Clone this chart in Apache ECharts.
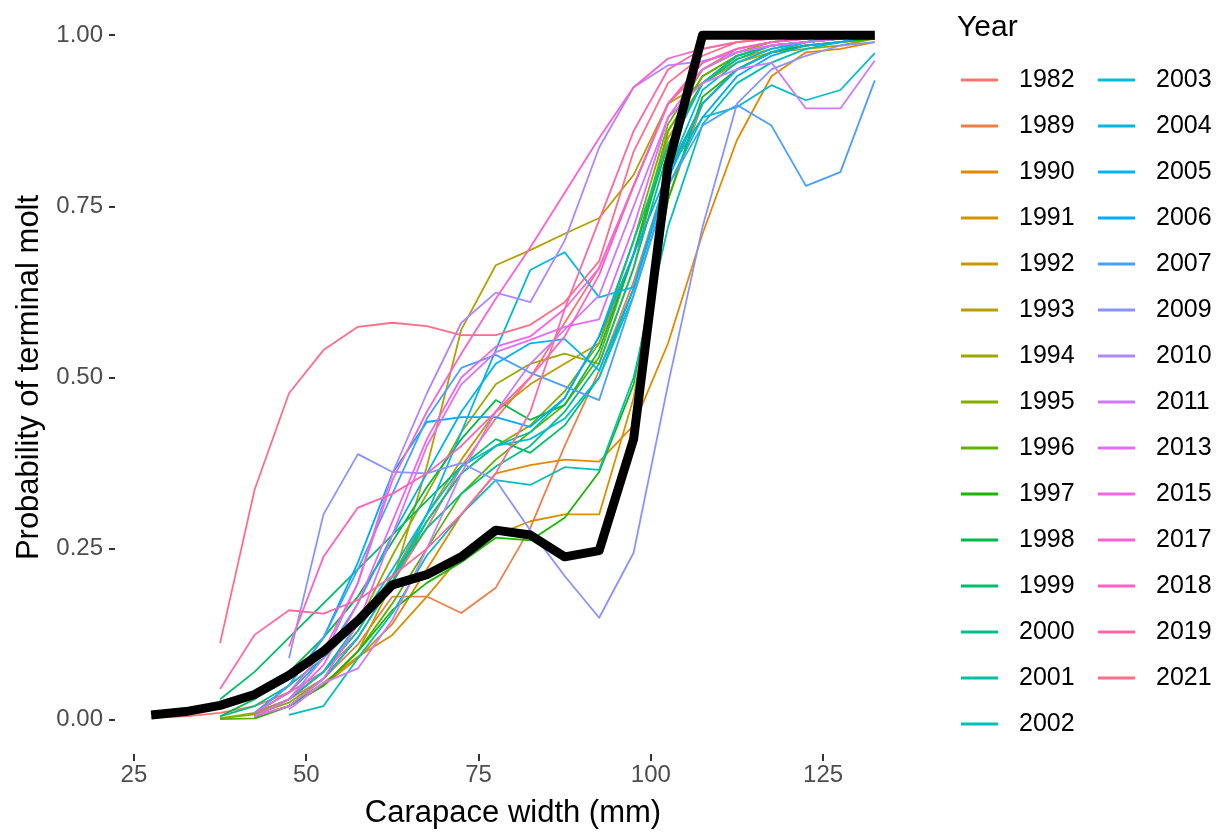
<!DOCTYPE html>
<html>
<head>
<meta charset="utf-8">
<script src="https://cdn.jsdelivr.net/npm/echarts@6/dist/echarts.min.js"></script>
<style>
html,body{margin:0;padding:0;background:#fff;}
#chart{width:1223px;height:836px;}
</style>
</head>
<body>
<div id="chart"></div>
<script>
// Carapace width midpoints (mm)
const widths = [27.5,32.5,37.5,42.5,47.5,52.5,57.5,62.5,67.5,72.5,77.5,82.5,87.5,92.5,97.5,102.5,107.5,112.5,117.5,122.5,127.5,132.5];
const years = ["1982","1989","1990","1991","1992","1993","1994","1995","1996","1997","1998","1999","2000","2001","2002","2003","2004","2005","2006","2007","2009","2010","2011","2013","2015","2017","2018","2019","2021"];
const xTicks = [25,50,75,100,125];
const yTicks = [0,0.25,0.5,0.75,1];

const p1982 = [0.003,0.005,0.01,0.02,0.04,0.07,0.12,0.2,0.28,0.37,0.44,0.5,0.58,0.66,0.78,0.9,0.95,0.98,0.99,0.995,1,1];
const p1989 = [null,null,null,0.01,0.03,0.06,0.11,0.18,0.18,0.156,0.193,0.28,0.40,0.51,0.64,0.80,0.90,0.95,0.975,0.985,0.99,0.995];
const p1990 = [null,null,null,0.005,0.02,0.05,0.09,0.14,0.22,0.3,0.36,0.372,0.38,0.377,0.43,0.55,0.71,0.847,0.94,0.975,0.98,0.99];
const p1991 = [null,null,null,0.005,0.02,0.054,0.092,0.124,0.18,0.24,0.27,0.29,0.30,0.30,0.47,0.76,0.9,0.95,0.975,0.985,0.99,0.995];
const p1992 = [null,null,null,0.005,0.03,0.07,0.13,0.21,0.3,0.38,0.45,0.49,0.52,0.55,0.68,0.85,0.93,0.965,0.98,0.99,0.995,1];
const p1993 = [null,null,null,0.005,0.02,0.05,0.10,0.20,0.37,0.57,0.664,0.686,0.71,0.733,0.796,0.90,0.93,0.96,0.975,0.98,0.985,0.995];
const p1994 = [null,null,0.002,0.01,0.03,0.07,0.14,0.24,0.33,0.42,0.49,0.52,0.535,0.52,0.66,0.86,0.94,0.97,0.985,0.99,0.995,1];
const p1995 = [null,null,0.002,0.008,0.025,0.06,0.12,0.2,0.29,0.36,0.4,0.43,0.48,0.55,0.7,0.87,0.95,0.975,0.99,0.995,1,1];
const p1996 = [null,null,0.001,0.002,0.02,0.05,0.1,0.17,0.25,0.33,0.38,0.42,0.46,0.53,0.68,0.86,0.94,0.97,0.985,0.99,0.995,1];
const p1997 = [null,null,null,0.002,0.02,0.05,0.1,0.16,0.2,0.23,0.266,0.262,0.295,0.362,0.49,0.76,0.91,0.95,0.975,0.985,0.99,0.995];
const p1998 = [null,null,0.005,0.03,0.07,0.12,0.18,0.26,0.34,0.41,0.467,0.438,0.46,0.54,0.68,0.84,0.93,0.97,0.985,0.99,0.995,1];
const p1999 = [null,null,0.03,0.07,0.12,0.17,0.22,0.27,0.32,0.37,0.41,0.39,0.43,0.5,0.63,0.8,0.9,0.95,0.975,0.99,0.995,1];
const p2000 = [null,null,0.005,0.02,0.05,0.09,0.14,0.21,0.28,0.33,0.37,0.40,0.45,0.52,0.66,0.83,0.93,0.965,0.985,0.99,0.995,1];
const p2001 = [null,null,null,0.005,0.03,0.07,0.13,0.21,0.29,0.36,0.40,0.42,0.47,0.56,0.70,0.84,0.93,0.97,0.985,0.99,1,1];
const p2002 = [null,null,null,null,0.007,0.02,0.09,0.156,0.24,0.30,0.35,0.343,0.369,0.365,0.50,0.72,0.87,0.93,0.96,0.98,0.99,1];
const p2003 = [null,null,null,0.005,0.03,0.07,0.14,0.22,0.3,0.37,0.4,0.41,0.44,0.5,0.62,0.78,0.88,0.895,0.927,0.905,0.92,0.974];
const p2004 = [null,null,null,null,0.02,0.06,0.12,0.2,0.3,0.42,0.54,0.657,0.683,0.617,0.632,0.80,0.92,0.96,0.98,0.99,1,1];
const p2005 = [null,null,null,0.01,0.04,0.09,0.17,0.27,0.36,0.45,0.52,0.55,0.556,0.51,0.63,0.79,0.9,0.95,0.975,0.99,1,1];
const p2006 = [null,null,null,0.01,0.05,0.12,0.23,0.36,0.435,0.442,0.442,0.428,0.47,0.56,0.68,0.80,0.88,0.94,0.97,0.985,0.99,1];
const p2007 = [null,null,null,0.01,0.05,0.12,0.22,0.33,0.44,0.514,0.533,0.507,0.487,0.467,0.62,0.78,0.868,0.898,0.868,0.78,0.80,0.934];
const p2009 = [null,null,null,null,0.09,0.30,0.388,0.362,0.36,0.375,0.35,0.277,0.21,0.149,0.244,0.49,0.72,0.90,0.95,0.97,0.985,0.99];
const p2010 = [null,null,null,0.005,0.03,0.09,0.2,0.36,0.477,0.58,0.624,0.61,0.70,0.836,0.924,0.956,0.962,0.975,0.985,0.99,0.995,1];
const p2011 = [null,null,null,null,0.015,0.054,0.075,0.146,0.25,0.36,0.45,0.52,0.57,0.62,0.75,0.88,0.93,0.95,0.96,0.893,0.893,0.963];
const p2013 = [null,null,null,0.005,0.02,0.06,0.14,0.27,0.4,0.49,0.537,0.555,0.574,0.585,0.72,0.88,0.95,0.975,0.985,0.99,0.995,1];
const p2015 = [null,null,null,0.005,0.03,0.08,0.17,0.29,0.41,0.5,0.545,0.56,0.6,0.66,0.78,0.9,0.96,0.98,0.99,0.995,1,1];
const p2017 = [null,null,null,0.01,0.04,0.1,0.2,0.35,0.45,0.535,0.615,0.69,0.77,0.85,0.924,0.966,0.98,0.99,0.995,1,1,1];
const p2018 = [null,null,null,null,0.107,0.238,0.31,0.33,0.36,0.40,0.45,0.5,0.56,0.65,0.78,0.9,0.96,0.98,0.99,0.995,1,1];
const p2019 = [null,null,0.045,0.124,0.16,0.155,0.175,0.21,0.25,0.3,0.36,0.45,0.6,0.73,0.86,0.95,0.98,0.99,0.995,1,1,1];
const p2021 = [null,null,0.112,0.336,0.477,0.54,0.574,0.58,0.575,0.562,0.562,0.577,0.61,0.67,0.83,0.93,0.97,0.99,0.995,1,1,1];
const pAll = [0.007,0.012,0.021,0.037,0.065,0.1,0.145,0.197,0.212,0.238,0.277,0.27,0.238,0.247,0.41,0.81,1,1,1,1,1,1];

const yearData = [p1982,p1989,p1990,p1991,p1992,p1993,p1994,p1995,p1996,p1997,p1998,p1999,p2000,p2001,p2002,p2003,p2004,p2005,p2006,p2007,p2009,p2010,p2011,p2013,p2015,p2017,p2018,p2019,p2021];

// ggplot2 hue palette (hcl, c=100, l=65)
function hcl(h, c, l) {
  const d = Math.PI / 180;
  const U = c * Math.cos(h * d), V = c * Math.sin(h * d);
  const Y = l > 7.999592 ? 100 * Math.pow((l + 16) / 116, 3) : 100 * l / 903.3;
  const u = U / (13 * l) + 0.1978398, v = V / (13 * l) + 0.4683363;
  const X = 9.0 * Y * u / (4 * v);
  const Z = -X / 3 - 5 * Y + 3 * Y / v;
  const x = X / 100, y = Y / 100, z = Z / 100;
  const g = t => { t = t > 0.00304 ? 1.055 * Math.pow(t, 1 / 2.4) - 0.055 : 12.92 * t; return Math.round(Math.max(0, Math.min(1, t)) * 255); };
  const r = g(3.240479 * x - 1.537150 * y - 0.498535 * z);
  const gg = g(-0.969256 * x + 1.875992 * y + 0.041556 * z);
  const b = g(0.055648 * x - 0.204043 * y + 1.057311 * z);
  return '#' + [r, gg, b].map(n => n.toString(16).padStart(2, '0')).join('');
}
const n = years.length;
const colors = years.map((_, i) => hcl(15 + i * 360 / n, 100, 65));

const toPairs = arr => widths.map((w, i) => arr[i] == null ? null : [w, arr[i]]).filter(p => p);

const FONT = '"Liberation Sans", Arial, sans-serif';
const series = years.map((y, i) => ({
  name: y, type: 'line', data: toPairs(yearData[i]),
  showSymbol: false, symbol: 'none', color: colors[i],
  lineStyle: { width: 1.8, color: colors[i], join: 'round' },
  emphasis: { disabled: true }, z: 2
}));
series.push({
  name: 'All', type: 'line', data: toPairs(pAll), showSymbol: false, symbol: 'none',
  color: '#000', lineStyle: { width: 9, color: '#000', join: 'round' }, emphasis: { disabled: true }, z: 5
});

const legendCommon = {
  orient: 'vertical', top: 62, itemWidth: 37, itemHeight: 3, itemGap: 20, icon: 'rect',
  selectedMode: false,
  textStyle: { fontFamily: FONT, fontSize: 25, color: '#000', lineHeight: 26, padding: [0, 0, 0, 16] }
};

const chart = echarts.init(document.getElementById('chart'), null, { renderer: 'canvas' });
chart.setOption({
  animation: false,
  backgroundColor: '#fff',
  color: colors,
  title: { text: 'Year', left: 952, top: 8, textStyle: { fontFamily: FONT, fontSize: 30, fontWeight: 'normal', color: '#000' } },
  legend: [
    Object.assign({}, legendCommon, { left: 956, data: years.slice(0, 15) }),
    Object.assign({}, legendCommon, { left: 1093, data: years.slice(15) })
  ],
  grid: { left: 115, right: 312, top: 1, bottom: 82 },
  xAxis: {
    type: 'value', min: 22.25, max: 137.75,
    name: 'Carapace width (mm)', nameLocation: 'middle', nameGap: 44,
    nameTextStyle: { fontFamily: FONT, fontSize: 31, color: '#000' },
    axisLine: { show: false, onZero: false },
    axisTick: { show: true, length: 7, lineStyle: { color: '#333', width: 2 }, customValues: xTicks },
    axisLabel: { fontFamily: FONT, fontSize: 24, color: '#4D4D4D', margin: 9, customValues: xTicks, formatter: v => String(v) },
    splitLine: { show: false }
  },
  yAxis: {
    type: 'value', min: -0.05, max: 1.05,
    name: 'Probability of terminal molt', nameLocation: 'middle', nameGap: 68,
    nameTextStyle: { fontFamily: FONT, fontSize: 31, color: '#000' },
    axisLine: { show: false, onZero: false },
    axisTick: { show: true, length: 6, lineStyle: { color: '#333', width: 2 }, customValues: yTicks },
    axisLabel: { fontFamily: FONT, fontSize: 24, color: '#4D4D4D', margin: 12, customValues: yTicks, formatter: v => v.toFixed(2) },
    splitLine: { show: false }
  },
  series: series
});
</script>
</body>
</html>
